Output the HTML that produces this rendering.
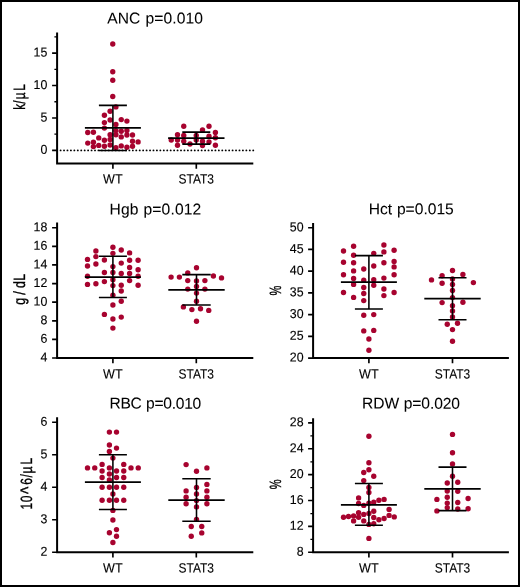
<!DOCTYPE html>
<html lang="en"><head><meta charset="utf-8"><title>CBC parameters: WT vs STAT3</title>
<style>
html,body{margin:0;padding:0;background:#fff;}
body{width:520px;height:587px;overflow:hidden;}
svg{display:block;}
text{font-family:"Liberation Sans",sans-serif;fill:#000;stroke:#000;stroke-width:0.12px;}
.t{font-size:15.6px;stroke-width:0.06px;}
.k{font-size:12.9px;text-anchor:end;}
.x{font-size:13.4px;text-anchor:middle;}
.y{font-size:16.3px;text-anchor:start;stroke-width:0.35px;}
.d circle{fill:#A7032F;}
.a{stroke:#000;stroke-width:2.0;fill:none;stroke-linecap:butt;}
.mj{stroke:#000;stroke-width:1.65;}
.mn{stroke:#000;stroke-width:1.3;}
.e{stroke:#000;stroke-width:1.55;fill:none;}
.m{stroke:#000;stroke-width:1.75;fill:none;}
.z{stroke:#000;stroke-width:1.9;stroke-dasharray:0.01 3.43;stroke-linecap:round;fill:none;}
</style></head><body>
<svg width="520" height="587" viewBox="0 0 520 587">
<rect x="0" y="0" width="520" height="587" fill="#000"/>
<rect x="2" y="2" width="516" height="583" fill="#fff"/>
<g>
<text class="t" x="107.2" y="23.5" transform="rotate(0.03 107.2 23.5)" style="letter-spacing:0.120px;word-spacing:0.5px">ANC p=0.010</text>
<g class="d"><circle cx="112.75" cy="44" r="2.68"/><circle cx="112.75" cy="71.75" r="2.68"/><circle cx="112.75" cy="80.25" r="2.68"/><circle cx="112.75" cy="96.5" r="2.68"/><circle cx="115.9" cy="106.9" r="2.68"/><circle cx="110.1" cy="111.25" r="2.68"/><circle cx="104.4" cy="115.25" r="2.68"/><circle cx="110.1" cy="120" r="2.68"/><circle cx="121.25" cy="119.6" r="2.68"/><circle cx="126.9" cy="121.1" r="2.68"/><circle cx="104.4" cy="122.6" r="2.68"/><circle cx="115.9" cy="124.5" r="2.68"/><circle cx="104.4" cy="128.1" r="2.68"/><circle cx="115.9" cy="130.6" r="2.68"/><circle cx="121.25" cy="131.25" r="2.68"/><circle cx="126.9" cy="130.4" r="2.68"/><circle cx="87.75" cy="132.5" r="2.68"/><circle cx="93.4" cy="132.25" r="2.68"/><circle cx="110.1" cy="134.75" r="2.68"/><circle cx="115.9" cy="134.75" r="2.68"/><circle cx="121.25" cy="136.9" r="2.68"/><circle cx="126.9" cy="135" r="2.68"/><circle cx="132.5" cy="135" r="2.68"/><circle cx="98.75" cy="137.9" r="2.68"/><circle cx="104.4" cy="140.25" r="2.68"/><circle cx="110.1" cy="139.4" r="2.68"/><circle cx="93.4" cy="142.25" r="2.68"/><circle cx="87.75" cy="143.1" r="2.68"/><circle cx="132.5" cy="141.25" r="2.68"/><circle cx="138.1" cy="141.9" r="2.68"/><circle cx="98.75" cy="145.4" r="2.68"/><circle cx="104.4" cy="146.25" r="2.68"/><circle cx="110.1" cy="145" r="2.68"/><circle cx="93.4" cy="146.6" r="2.68"/><circle cx="115.9" cy="147.75" r="2.68"/><circle cx="121.25" cy="145.9" r="2.68"/><circle cx="126.9" cy="147.25" r="2.68"/><circle cx="132.5" cy="146.25" r="2.68"/></g>
<g class="d"><circle cx="183.75" cy="126.25" r="2.68"/><circle cx="209" cy="126.25" r="2.68"/><circle cx="202.5" cy="130" r="2.68"/><circle cx="215.4" cy="132.5" r="2.68"/><circle cx="177.5" cy="134.75" r="2.68"/><circle cx="183.75" cy="135.4" r="2.68"/><circle cx="196.25" cy="135.4" r="2.68"/><circle cx="209" cy="136.25" r="2.68"/><circle cx="215.4" cy="137.75" r="2.68"/><circle cx="171.25" cy="140" r="2.68"/><circle cx="177.5" cy="140" r="2.68"/><circle cx="183.75" cy="141.25" r="2.68"/><circle cx="196.25" cy="140" r="2.68"/><circle cx="202.5" cy="141.25" r="2.68"/><circle cx="209" cy="141.9" r="2.68"/><circle cx="190" cy="144" r="2.68"/><circle cx="177.5" cy="145.25" r="2.68"/><circle cx="202.5" cy="145.6" r="2.68"/><circle cx="215.4" cy="145.25" r="2.68"/></g>
<path class="z" d="M60.6 150.4H253.3"/>
<path class="e" d="M98.9 105.35H126.9M98.9 150.4H126.9M112.9 105.35V150.4"/>
<path class="m" d="M84.9 127.8H140.9"/>
<path class="e" d="M182.3 132.1H210.3M182.3 144.1H210.3M196.3 132.1V144.1"/>
<path class="m" d="M168.1 138.1H224.5"/>
<path class="a" d="M57.1 32.4V163.4H253.3"/>
<path class="mj" d="M52.1 53.05H57.1M52.1 85.5H57.1M52.1 118H57.1M52.1 150.4H57.1M112.9 163.4V168.7M196.3 163.4V168.7"/>
<path class="mn" d="M54.4 36.8H57.1M54.4 69.3H57.1M54.4 101.75H57.1M54.4 134.2H57.1"/>
<text class="k" transform="translate(47.3 56.5) rotate(0.03) scale(0.96 1)">15</text>
<text class="k" transform="translate(47.3 88.95) rotate(0.03) scale(0.96 1)">10</text>
<text class="k" transform="translate(47.3 121.45) rotate(0.03) scale(0.96 1)">5</text>
<text class="k" transform="translate(47.3 153.85) rotate(0.03) scale(0.96 1)">0</text>
<text class="x" transform="translate(112.9 183.5) rotate(0.03) scale(0.9408 1)">WT</text>
<text class="x" transform="translate(196.3 183.5) rotate(0.03) scale(0.8940 1)">STAT3</text>
<text class="y" transform="translate(24.75 109.1) rotate(-89.97) scale(0.7200 1)" x="-0.95 7.53 13.55 25.33">k/µL</text>
</g>
<g>
<text class="t" x="109.5" y="214.4" transform="rotate(0.03 109.5 214.4)" style="letter-spacing:0.147px;word-spacing:0.5px">Hgb p=0.012</text>
<g class="d"><circle cx="87.5" cy="259.4" r="2.68"/><circle cx="87.5" cy="266" r="2.68"/><circle cx="87.5" cy="276.25" r="2.68"/><circle cx="87.5" cy="284.4" r="2.68"/><circle cx="95.9" cy="251" r="2.68"/><circle cx="95.9" cy="256.6" r="2.68"/><circle cx="95.9" cy="264" r="2.68"/><circle cx="95.9" cy="283.75" r="2.68"/><circle cx="104.4" cy="260" r="2.68"/><circle cx="104.4" cy="272.5" r="2.68"/><circle cx="104.4" cy="281.6" r="2.68"/><circle cx="104.4" cy="314.4" r="2.68"/><circle cx="112.9" cy="247.25" r="2.68"/><circle cx="112.9" cy="253.4" r="2.68"/><circle cx="112.9" cy="266.6" r="2.68"/><circle cx="112.9" cy="272.5" r="2.68"/><circle cx="112.9" cy="279.75" r="2.68"/><circle cx="112.9" cy="285.6" r="2.68"/><circle cx="112.9" cy="295.25" r="2.68"/><circle cx="112.9" cy="305" r="2.68"/><circle cx="112.9" cy="319" r="2.68"/><circle cx="112.9" cy="328.1" r="2.68"/><circle cx="121.25" cy="250" r="2.68"/><circle cx="121.25" cy="263.1" r="2.68"/><circle cx="121.25" cy="273.5" r="2.68"/><circle cx="121.25" cy="285.25" r="2.68"/><circle cx="121.25" cy="291" r="2.68"/><circle cx="121.25" cy="301.25" r="2.68"/><circle cx="121.25" cy="317.1" r="2.68"/><circle cx="129.6" cy="252.9" r="2.68"/><circle cx="129.6" cy="260.25" r="2.68"/><circle cx="129.6" cy="267.5" r="2.68"/><circle cx="129.6" cy="273.5" r="2.68"/><circle cx="129.6" cy="280.6" r="2.68"/><circle cx="138.1" cy="260.25" r="2.68"/><circle cx="138.1" cy="269.75" r="2.68"/><circle cx="138.1" cy="276.25" r="2.68"/><circle cx="138.1" cy="285.25" r="2.68"/></g>
<g class="d"><circle cx="196.5" cy="267.75" r="2.68"/><circle cx="187.75" cy="272.9" r="2.68"/><circle cx="171.1" cy="277.1" r="2.68"/><circle cx="179.4" cy="277.1" r="2.68"/><circle cx="213.4" cy="276" r="2.68"/><circle cx="221.5" cy="277.9" r="2.68"/><circle cx="187.75" cy="280.6" r="2.68"/><circle cx="196.5" cy="280.9" r="2.68"/><circle cx="204.9" cy="280.6" r="2.68"/><circle cx="196.5" cy="286.5" r="2.68"/><circle cx="187.75" cy="289.1" r="2.68"/><circle cx="204.9" cy="289.1" r="2.68"/><circle cx="196.5" cy="293.1" r="2.68"/><circle cx="196.5" cy="301.25" r="2.68"/><circle cx="183.4" cy="306.9" r="2.68"/><circle cx="191.9" cy="309.6" r="2.68"/><circle cx="200.5" cy="308.75" r="2.68"/><circle cx="208.75" cy="310.4" r="2.68"/><circle cx="196.5" cy="321.25" r="2.68"/></g>
<path class="e" d="M98.9 256.25H126.9M98.9 297.5H126.9M112.9 256.25V297.5"/>
<path class="m" d="M84.9 277.1H140.9"/>
<path class="e" d="M182.3 274.6H210.7M182.3 305H210.7M196.5 274.6V305"/>
<path class="m" d="M168.3 289.9H224.7"/>
<path class="a" d="M57.1 222.5V358H253.3"/>
<path class="mj" d="M52.1 227.7H57.1M52.1 246.32H57.1M52.1 264.94H57.1M52.1 283.56H57.1M52.1 302.18H57.1M52.1 320.8H57.1M52.1 339.42H57.1M52.1 358.04H57.1M112.9 358V363.3M196.3 358V363.3"/>
<text class="k" transform="translate(47.3 231.15) rotate(0.03) scale(0.96 1)">18</text>
<text class="k" transform="translate(47.3 249.77) rotate(0.03) scale(0.96 1)">16</text>
<text class="k" transform="translate(47.3 268.39) rotate(0.03) scale(0.96 1)">14</text>
<text class="k" transform="translate(47.3 287.01) rotate(0.03) scale(0.96 1)">12</text>
<text class="k" transform="translate(47.3 305.63) rotate(0.03) scale(0.96 1)">10</text>
<text class="k" transform="translate(47.3 324.25) rotate(0.03) scale(0.96 1)">8</text>
<text class="k" transform="translate(47.3 342.87) rotate(0.03) scale(0.96 1)">6</text>
<text class="k" transform="translate(47.3 361.49) rotate(0.03) scale(0.96 1)">4</text>
<text class="x" transform="translate(112.9 378.5) rotate(0.03) scale(0.9408 1)">WT</text>
<text class="x" transform="translate(196.3 378.5) rotate(0.03) scale(0.8940 1)">STAT3</text>
<text class="y" transform="translate(24.75 304.5) rotate(-89.97) scale(0.7600 1)" x="-0.27 8.79 12.87 17.39 21.85 31.23">g / dL</text>
</g>
<g>
<text class="t" x="368.75" y="214.2" transform="rotate(0.03 368.75 214.2)" style="letter-spacing:-0.006px;word-spacing:0.5px">Hct p=0.015</text>
<g class="d"><circle cx="343.5" cy="251" r="2.68"/><circle cx="343.5" cy="262.25" r="2.68"/><circle cx="343.5" cy="274.75" r="2.68"/><circle cx="343.5" cy="292.5" r="2.68"/><circle cx="353.6" cy="246.25" r="2.68"/><circle cx="353.6" cy="255.25" r="2.68"/><circle cx="353.6" cy="262.75" r="2.68"/><circle cx="353.6" cy="270.9" r="2.68"/><circle cx="353.6" cy="278.4" r="2.68"/><circle cx="353.6" cy="284.4" r="2.68"/><circle cx="353.6" cy="297.4" r="2.68"/><circle cx="363.75" cy="269" r="2.68"/><circle cx="363.75" cy="280.25" r="2.68"/><circle cx="363.75" cy="287.5" r="2.68"/><circle cx="363.75" cy="293.5" r="2.68"/><circle cx="363.75" cy="300.6" r="2.68"/><circle cx="373.75" cy="253.4" r="2.68"/><circle cx="373.75" cy="266" r="2.68"/><circle cx="373.75" cy="279.75" r="2.68"/><circle cx="373.75" cy="285.25" r="2.68"/><circle cx="383.9" cy="245" r="2.68"/><circle cx="383.9" cy="251.9" r="2.68"/><circle cx="383.9" cy="262.75" r="2.68"/><circle cx="383.9" cy="278.1" r="2.68"/><circle cx="383.9" cy="289" r="2.68"/><circle cx="383.9" cy="295.6" r="2.68"/><circle cx="394.1" cy="250.25" r="2.68"/><circle cx="394.1" cy="261.5" r="2.68"/><circle cx="394.1" cy="266.9" r="2.68"/><circle cx="394.1" cy="274.75" r="2.68"/><circle cx="394.1" cy="292.5" r="2.68"/><circle cx="363.75" cy="315.25" r="2.68"/><circle cx="373.75" cy="314.6" r="2.68"/><circle cx="363.75" cy="330.9" r="2.68"/><circle cx="373.75" cy="330.4" r="2.68"/><circle cx="368.9" cy="339" r="2.68"/><circle cx="368.9" cy="350.25" r="2.68"/></g>
<g class="d"><circle cx="452.5" cy="270.5" r="2.68"/><circle cx="442.1" cy="275.75" r="2.68"/><circle cx="462.9" cy="274.5" r="2.68"/><circle cx="431.5" cy="279.9" r="2.68"/><circle cx="452.5" cy="278.9" r="2.68"/><circle cx="442.1" cy="283.25" r="2.68"/><circle cx="473.4" cy="282.6" r="2.68"/><circle cx="452.5" cy="284.5" r="2.68"/><circle cx="452.5" cy="290.5" r="2.68"/><circle cx="452.5" cy="297.6" r="2.68"/><circle cx="442.1" cy="302.6" r="2.68"/><circle cx="462.9" cy="302.25" r="2.68"/><circle cx="452.5" cy="305.75" r="2.68"/><circle cx="452.5" cy="311" r="2.68"/><circle cx="452.5" cy="317" r="2.68"/><circle cx="447.25" cy="324.2" r="2.68"/><circle cx="457.5" cy="323.3" r="2.68"/><circle cx="452.5" cy="329.6" r="2.68"/><circle cx="452.5" cy="341.25" r="2.68"/></g>
<path class="e" d="M354.9 255.6H382.9M354.9 309H382.9M368.9 255.6V309"/>
<path class="m" d="M340.9 282.1H396.9"/>
<path class="e" d="M438.5 277.75H466.5M438.5 319.7H466.5M452.5 277.75V319.7"/>
<path class="m" d="M424.3 298.6H480.7"/>
<path class="a" d="M313.1 223V358H508.9"/>
<path class="mj" d="M308.1 227.7H313.1M308.1 249.44H313.1M308.1 271.18H313.1M308.1 292.92H313.1M308.1 314.66H313.1M308.1 336.4H313.1M308.1 358.14H313.1M368.9 358V363.3M452.5 358V363.3"/>
<text class="k" transform="translate(303.6 231.15) rotate(0.03) scale(0.96 1)">50</text>
<text class="k" transform="translate(303.6 252.89) rotate(0.03) scale(0.96 1)">45</text>
<text class="k" transform="translate(303.6 274.63) rotate(0.03) scale(0.96 1)">40</text>
<text class="k" transform="translate(303.6 296.37) rotate(0.03) scale(0.96 1)">35</text>
<text class="k" transform="translate(303.6 318.11) rotate(0.03) scale(0.96 1)">30</text>
<text class="k" transform="translate(303.6 339.85) rotate(0.03) scale(0.96 1)">25</text>
<text class="k" transform="translate(303.6 361.59) rotate(0.03) scale(0.96 1)">20</text>
<text class="x" transform="translate(368.9 378.5) rotate(0.03) scale(0.9408 1)">WT</text>
<text class="x" transform="translate(452.5 378.5) rotate(0.03) scale(0.8940 1)">STAT3</text>
<text class="y" transform="translate(281 290.45) rotate(-89.97) scale(0.6825 1)" x="-7.25">%</text>
</g>
<g>
<text class="t" x="109.5" y="408.6" transform="rotate(0.03 109.5 408.6)" style="letter-spacing:-0.285px;word-spacing:0.5px">RBC p=0.010</text>
<g class="d"><circle cx="109.4" cy="432.1" r="2.68"/><circle cx="116.5" cy="432.1" r="2.68"/><circle cx="109.4" cy="445" r="2.68"/><circle cx="116.5" cy="448.1" r="2.68"/><circle cx="109.4" cy="451.5" r="2.68"/><circle cx="112.9" cy="458.1" r="2.68"/><circle cx="102.1" cy="464.4" r="2.68"/><circle cx="123.75" cy="464.4" r="2.68"/><circle cx="87.5" cy="467.9" r="2.68"/><circle cx="94.75" cy="467.9" r="2.68"/><circle cx="109.4" cy="467.9" r="2.68"/><circle cx="131" cy="467.9" r="2.68"/><circle cx="138.25" cy="467.9" r="2.68"/><circle cx="102.1" cy="471" r="2.68"/><circle cx="116.5" cy="471" r="2.68"/><circle cx="123.75" cy="471" r="2.68"/><circle cx="109.4" cy="474" r="2.68"/><circle cx="102.1" cy="477.5" r="2.68"/><circle cx="116.5" cy="477.5" r="2.68"/><circle cx="123.75" cy="477.5" r="2.68"/><circle cx="109.4" cy="480" r="2.68"/><circle cx="102.1" cy="487.2" r="2.68"/><circle cx="109.4" cy="487.2" r="2.68"/><circle cx="116.5" cy="487.2" r="2.68"/><circle cx="123.75" cy="487.2" r="2.68"/><circle cx="112.9" cy="494" r="2.68"/><circle cx="102.1" cy="500.25" r="2.68"/><circle cx="109.4" cy="500.25" r="2.68"/><circle cx="116.5" cy="500.25" r="2.68"/><circle cx="123.75" cy="500.25" r="2.68"/><circle cx="112.9" cy="510.4" r="2.68"/><circle cx="112.9" cy="520" r="2.68"/><circle cx="116.5" cy="529.6" r="2.68"/><circle cx="109.4" cy="532.75" r="2.68"/><circle cx="116.5" cy="536.25" r="2.68"/><circle cx="112.9" cy="542.5" r="2.68"/></g>
<g class="d"><circle cx="186.1" cy="464.6" r="2.68"/><circle cx="206.9" cy="467.9" r="2.68"/><circle cx="196.5" cy="471.25" r="2.68"/><circle cx="206.9" cy="484.4" r="2.68"/><circle cx="196.5" cy="487.5" r="2.68"/><circle cx="186.1" cy="490.9" r="2.68"/><circle cx="206.9" cy="490.9" r="2.68"/><circle cx="196.5" cy="494" r="2.68"/><circle cx="186.1" cy="497.25" r="2.68"/><circle cx="206.9" cy="497.25" r="2.68"/><circle cx="196.5" cy="500.6" r="2.68"/><circle cx="186.1" cy="503.75" r="2.68"/><circle cx="206.9" cy="503.75" r="2.68"/><circle cx="196.5" cy="506.9" r="2.68"/><circle cx="196.5" cy="519.4" r="2.68"/><circle cx="191.25" cy="526.5" r="2.68"/><circle cx="201.75" cy="526.5" r="2.68"/><circle cx="201.75" cy="532.9" r="2.68"/><circle cx="191.25" cy="536.25" r="2.68"/></g>
<path class="e" d="M98.9 454.75H126.9M98.9 509.5H126.9M112.9 454.75V509.5"/>
<path class="m" d="M84.9 482.1H140.9"/>
<path class="e" d="M182.3 478.75H210.7M182.3 521.25H210.7M196.5 478.75V521.25"/>
<path class="m" d="M168.3 500H224.7"/>
<path class="a" d="M57.1 417.2V552.25H253.3"/>
<path class="mj" d="M52.1 422.2H57.1M52.1 454.71H57.1M52.1 487.22H57.1M52.1 519.73H57.1M52.1 552.24H57.1M112.9 552.25V557.55M196.3 552.25V557.55"/>
<text class="k" transform="translate(47.3 425.65) rotate(0.03) scale(0.96 1)">6</text>
<text class="k" transform="translate(47.3 458.16) rotate(0.03) scale(0.96 1)">5</text>
<text class="k" transform="translate(47.3 490.67) rotate(0.03) scale(0.96 1)">4</text>
<text class="k" transform="translate(47.3 523.18) rotate(0.03) scale(0.96 1)">3</text>
<text class="k" transform="translate(47.3 555.69) rotate(0.03) scale(0.96 1)">2</text>
<text class="x" transform="translate(112.9 572.4) rotate(0.03) scale(0.9408 1)">WT</text>
<text class="x" transform="translate(196.3 572.4) rotate(0.03) scale(0.8940 1)">STAT3</text>
<text class="y" transform="translate(31.65 508.7) rotate(-89.97) scale(0.7400 1)" x="-1.1 8.75 19.81 32.3 42.26 47.44 59.61">10<tspan style="font-size:21px" dy="3.3">^</tspan><tspan dy="-3.3">6/µL</tspan></text>
</g>
<g>
<text class="t" x="362.1" y="408.6" transform="rotate(0.03 362.1 408.6)" style="letter-spacing:-0.101px;word-spacing:0.5px">RDW p=0.020</text>
<g class="d"><circle cx="368.9" cy="436.25" r="2.68"/><circle cx="368.9" cy="462.75" r="2.68"/><circle cx="368.9" cy="469.75" r="2.68"/><circle cx="363.75" cy="472.5" r="2.68"/><circle cx="373.75" cy="476.25" r="2.68"/><circle cx="363.75" cy="480.6" r="2.68"/><circle cx="368.9" cy="487.5" r="2.68"/><circle cx="368.9" cy="492.5" r="2.68"/><circle cx="358.6" cy="497.9" r="2.68"/><circle cx="378.9" cy="500.25" r="2.68"/><circle cx="384.1" cy="499.4" r="2.68"/><circle cx="373.75" cy="502.25" r="2.68"/><circle cx="358.6" cy="503.5" r="2.68"/><circle cx="363.75" cy="505.4" r="2.68"/><circle cx="389.1" cy="509.4" r="2.68"/><circle cx="373.75" cy="511.25" r="2.68"/><circle cx="358.6" cy="512.75" r="2.68"/><circle cx="363.75" cy="514.4" r="2.68"/><circle cx="389.1" cy="515.4" r="2.68"/><circle cx="353.6" cy="515.9" r="2.68"/><circle cx="348.5" cy="516.5" r="2.68"/><circle cx="343.5" cy="517.25" r="2.68"/><circle cx="394.25" cy="516.9" r="2.68"/><circle cx="358.6" cy="517.25" r="2.68"/><circle cx="373.75" cy="517.5" r="2.68"/><circle cx="384.1" cy="518.5" r="2.68"/><circle cx="378.9" cy="519.75" r="2.68"/><circle cx="353.6" cy="520.9" r="2.68"/><circle cx="363.75" cy="520.9" r="2.68"/><circle cx="373.75" cy="523.75" r="2.68"/><circle cx="368.9" cy="524.4" r="2.68"/><circle cx="368.9" cy="538.4" r="2.68"/><circle cx="368.9" cy="503.2" r="2.68"/><circle cx="368.9" cy="513.5" r="2.68"/></g>
<g class="d"><circle cx="452.5" cy="434.4" r="2.68"/><circle cx="452.5" cy="452.7" r="2.68"/><circle cx="452.5" cy="464" r="2.68"/><circle cx="452.5" cy="476.25" r="2.68"/><circle cx="447.25" cy="483" r="2.68"/><circle cx="457.75" cy="482.25" r="2.68"/><circle cx="447.25" cy="491" r="2.68"/><circle cx="457.75" cy="491.25" r="2.68"/><circle cx="447.25" cy="497.25" r="2.68"/><circle cx="436.9" cy="499.4" r="2.68"/><circle cx="468.1" cy="498.5" r="2.68"/><circle cx="447.25" cy="503.1" r="2.68"/><circle cx="457.75" cy="502.5" r="2.68"/><circle cx="447.25" cy="507.75" r="2.68"/><circle cx="457.75" cy="509" r="2.68"/><circle cx="468.1" cy="508.75" r="2.68"/><circle cx="436.9" cy="510.9" r="2.68"/></g>
<path class="e" d="M354.9 483.5H382.9M354.9 525.25H382.9M368.9 483.5V525.25"/>
<path class="m" d="M340.9 504.75H396.9"/>
<path class="e" d="M438.5 467.1H466.5M438.5 510.6H466.5M452.5 467.1V510.6"/>
<path class="m" d="M424.3 488.75H480.7"/>
<path class="a" d="M313.1 418.2V552.25H508.9"/>
<path class="mj" d="M308.1 422.9H313.1M308.1 448.77H313.1M308.1 474.64H313.1M308.1 500.51H313.1M308.1 526.38H313.1M308.1 552.25H313.1M368.9 552.25V557.55M452.5 552.25V557.55"/>
<path class="mn" d="M310.4 435.95H313.1M310.4 461.82H313.1M310.4 487.69H313.1M310.4 513.56H313.1M310.4 539.43H313.1"/>
<text class="k" transform="translate(303.6 426.35) rotate(0.03) scale(0.96 1)">28</text>
<text class="k" transform="translate(303.6 452.22) rotate(0.03) scale(0.96 1)">24</text>
<text class="k" transform="translate(303.6 478.09) rotate(0.03) scale(0.96 1)">20</text>
<text class="k" transform="translate(303.6 503.96) rotate(0.03) scale(0.96 1)">16</text>
<text class="k" transform="translate(303.6 529.83) rotate(0.03) scale(0.96 1)">12</text>
<text class="k" transform="translate(303.6 555.7) rotate(0.03) scale(0.96 1)">8</text>
<text class="x" transform="translate(368.9 572.4) rotate(0.03) scale(0.9408 1)">WT</text>
<text class="x" transform="translate(452.5 572.4) rotate(0.03) scale(0.8940 1)">STAT3</text>
<text class="y" transform="translate(281 484.3) rotate(-89.97) scale(0.6825 1)" x="-7.25">%</text>
</g>
</svg>
</body></html>
